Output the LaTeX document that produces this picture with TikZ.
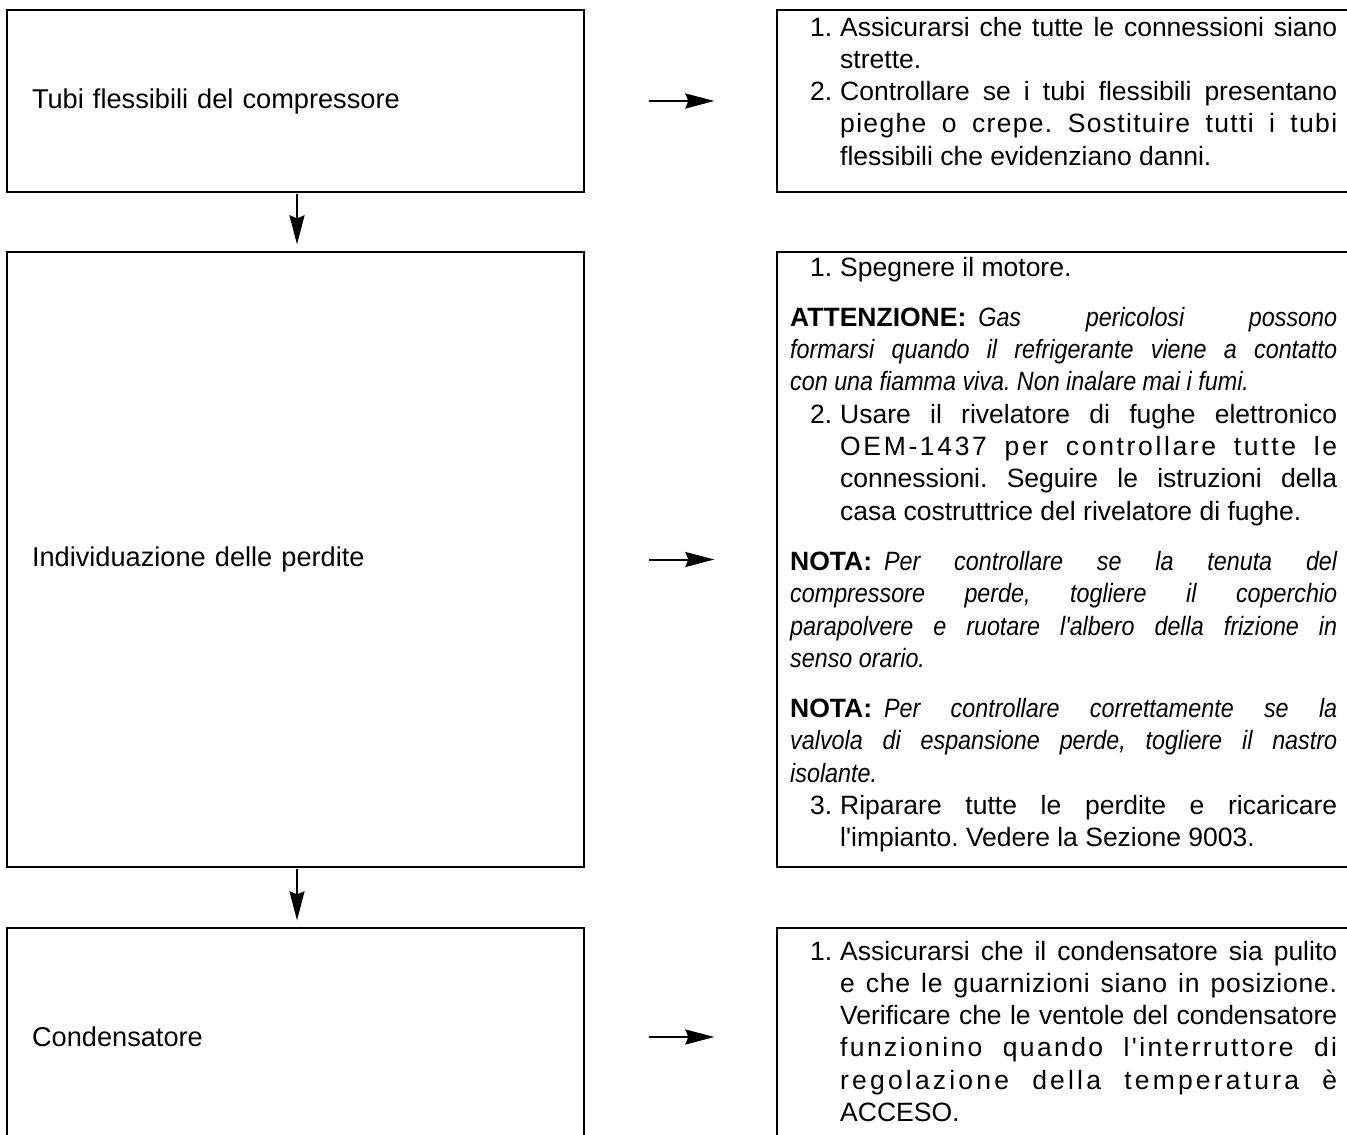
\documentclass[tikz,border=0pt]{standalone}
\usepackage{fontspec}
\setmainfont{Liberation Sans}[Ligatures=TeXOff]
\newfontfamily\narrowfam{Liberation Sans}[Ligatures=TeXOff,FakeStretch=0.88]
\usetikzlibrary{arrows.meta}
\frenchspacing

% condensed oblique used for warnings and notes
\newcommand\narit[1]{{\narrowfam\itshape #1}}
% bold lead-in word with a fixed gap after it
\newcommand\lead[1]{\textbf{#1}\hskip 12pt\relax}
% line builders for the justified step texts
\newlength\hangw
\setlength\hangw{50pt}
\newcommand\fullln[1]{\hbox to \hsize{#1}}
\newcommand\lastln[1]{\hbox to \hsize{#1\hfil}}
\newcommand\hfull[1]{\hbox to \hsize{\hskip\hangw\hbox to \dimexpr\hsize-\hangw\relax{#1}}}
\newcommand\hlast[1]{\hbox to \hsize{\hskip\hangw #1\hfil}}
\newcommand\numfull[2]{\hbox to \hsize{\hbox to \hangw{\hfil#1\hskip 8pt}\hbox to \dimexpr\hsize-\hangw\relax{#2}}}
\newcommand\numlast[2]{\hbox to \hsize{\hbox to \hangw{\hfil#1\hskip 8pt}#2\hfil}}
\newcommand\steptext[1]{\vtop{\hsize=547pt\fontsize{26.5}{32.3}\selectfont\frenchspacing #1}}
\newcommand\checkname[1]{\raisebox{-2pt}{#1}}

\begin{document}
\begin{tikzpicture}[x=1pt,y=-1pt,
  box/.style={draw=black, line width=1.3pt, minimum width=577pt, inner xsep=25pt,
    text width=527pt, align=left, font=\fontsize{27.2}{32}\selectfont},
  sidebox/.style={draw=black, line width=1.3pt, minimum width=572pt, inner sep=0pt},
  textblk/.style={anchor=base west, inner sep=0pt},
  flow/.style={line width=2pt, -{Stealth[length=29pt,width=15pt,inset=3pt]}}]

\useasboundingbox (0,0) rectangle (1347,1135);

% left column: checks
\node[box, minimum height=182pt] (l1) at (295.5,101) {\checkname{Tubi flessibili del compressore}};
\node[box, minimum height=615pt] (l2) at (295.5,559.5) {\checkname{Individuazione delle perdite}};
\node[box, minimum height=218pt] (l3) at (295.5,1037) {\checkname{Condensatore}};

% right column: actions
\node[sidebox, minimum height=182pt] (r1) at (1063,101) {};
\node[sidebox, minimum height=615pt] (r2) at (1063,559.5) {};
\node[sidebox, minimum height=218pt] (r3) at (1063,1037) {};

\node[textblk] (r1t) at (790,36) {\steptext{%
\numfull{1.}{Assicurarsi che tutte le connessioni siano}
\hlast{strette.}
\numfull{2.}{Controllare se i tubi flessibili presentano}
\hfull{\addfontfeature{LetterSpace=5}pieghe o crepe. Sostituire tutti i tubi}
\hlast{flessibili che evidenziano danni.}
}};

\node[textblk] (r2t) at (790,276) {\steptext{%
\numlast{1.}{Spegnere il motore.}
\vskip18pt
\fullln{\lead{ATTENZIONE:}\narit{Gas pericolosi possono}}
\fullln{\narit{formarsi quando il refrigerante viene a contatto}}
\lastln{\narit{con una fiamma viva. Non inalare mai i fumi.}}
\numfull{2.}{Usare il rivelatore di fughe elettronico}
\hfull{\addfontfeature{LetterSpace=10}OEM-1437 per controllare tutte le}
\hfull{connessioni. Seguire le istruzioni della}
\hlast{casa costruttrice del rivelatore di fughe.}
\vskip18pt
\fullln{\lead{NOTA:}\narit{Per controllare se la tenuta del}}
\fullln{\narit{compressore perde, togliere il coperchio}}
\fullln{\narit{parapolvere e ruotare l'albero della frizione in}}
\lastln{\narit{senso orario.}}
\vskip18pt
\fullln{\lead{NOTA:}\narit{Per controllare correttamente se la}}
\fullln{\narit{valvola di espansione perde, togliere il nastro}}
\lastln{\narit{isolante.}}
\numfull{3.}{Riparare tutte le perdite e ricaricare}
\hlast{l'impianto. Vedere la Sezione 9003.}
}};

\node[textblk] (r3t) at (790,960) {\steptext{%
\numfull{1.}{Assicurarsi che il condensatore sia pulito}
\hfull{\addfontfeature{LetterSpace=3}e che le guarnizioni siano in posizione.}
\hfull{Verificare che le ventole del condensatore}
\hfull{\addfontfeature{LetterSpace=9}funzionino quando l'interruttore di}
\hfull{\addfontfeature{LetterSpace=12}regolazione della temperatura è}
\hlast{ACCESO.}
}};

% connectors
\draw[flow, shorten <=1pt, shorten >=7pt] ([xshift=1.5pt]l1.south) -- ([xshift=1.5pt]l2.north);
\draw[flow, shorten <=1pt, shorten >=7pt] ([xshift=1.5pt]l2.south) -- ([xshift=1.5pt]l3.north);
\draw[flow, shorten <=64pt, shorten >=62pt] (l1.east) -- (r1.west);
\draw[flow, shorten <=64pt, shorten >=62pt] (l2.east) -- (r2.west);
\draw[flow, shorten <=64pt, shorten >=62pt] (l3.east) -- (r3.west);
\end{tikzpicture}
\end{document}
